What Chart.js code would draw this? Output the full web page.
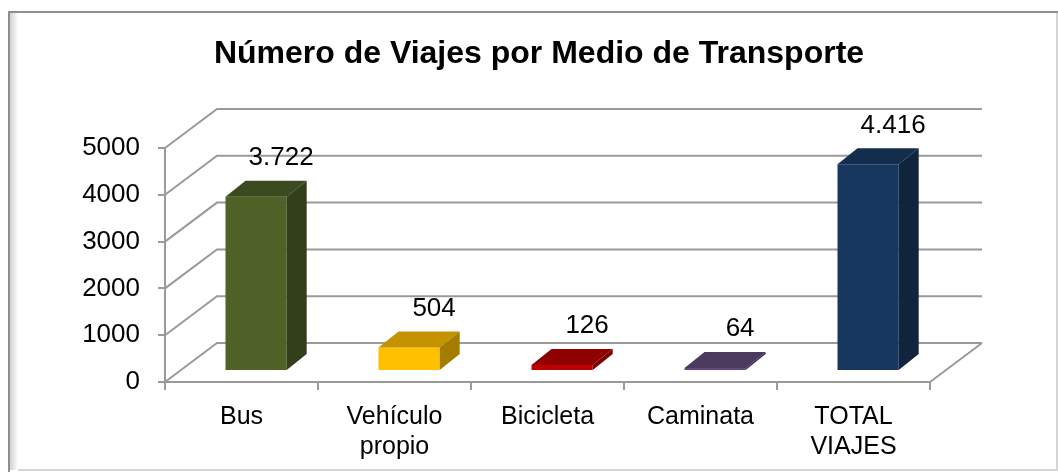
<!DOCTYPE html>
<html>
<head>
<meta charset="utf-8">
<script src="https://cdn.jsdelivr.net/npm/chart.js@4.4.1/dist/chart.umd.min.js"></script>
<style>
  html, body { margin: 0; padding: 0; background: #fff; }
  canvas { display: block; }
</style>
</head>
<body>
<canvas id="myChart" width="1058" height="472"></canvas>
<script>
// Datos del gráfico
const categorias = ['Bus', ['Vehículo', 'propio'], 'Bicicleta', 'Caminata', ['TOTAL', 'VIAJES']];
const viajes = [3722, 504, 126, 64, 4416];
const ejeMin = 0;
const ejeMax = 5000;
const ejePaso = 1000;

// Colores de cada barra: cara frontal, superior y lateral
const colorFrente = ['#4F6228', '#FFC000', '#C00000', '#604A7B', '#17375E'];
const colorArriba = ['#3B4A1F', '#C49300', '#8F0000', '#4B3A5E', '#132D4D'];
const colorLado = ['#323F1A', '#A67C00', '#7A0000', '#3E3050', '#10243E'];

const FUENTE = "'Liberation Sans', Arial, sans-serif";

// Profundidad del efecto 3D
const pared = { dx: 52, dy: -39 };     // fondo del gráfico
const despl = { dx: 14.6, dy: -11 };   // posición de las barras dentro del piso
const fondoBarra = { dx: 20, dy: -16 }; // profundidad de cada barra

function formatoMiles(v) {
    return String(v).replace(/\B(?=(\d{3})+(?!\d))/g, '.');
}

function poligono(ctx, puntos, color) {
    ctx.beginPath();
    ctx.moveTo(puntos[0][0], puntos[0][1]);
    for (let i = 1; i < puntos.length; i++) ctx.lineTo(puntos[i][0], puntos[i][1]);
    ctx.closePath();
    ctx.fillStyle = color;
    ctx.fill();
}

// Marco, paredes y piso en perspectiva
const plugin3D = {
    id: 'efecto3d',
    beforeDraw(chart) {
        const ctx = chart.ctx;
        ctx.save();
        ctx.fillStyle = '#fff';
        ctx.fillRect(0, 0, chart.width, chart.height);
        // sombra interior del marco
        const g = ctx.createLinearGradient(10, 0, 18, 0);
        g.addColorStop(0, 'rgba(0,0,0,0.18)');
        g.addColorStop(1, 'rgba(0,0,0,0)');
        ctx.fillStyle = g;
        ctx.fillRect(10, 13, 8, chart.height - 15);
        ctx.strokeStyle = '#d6d6d6';
        ctx.lineWidth = 2;
        ctx.beginPath();
        ctx.moveTo(1057, 13);
        ctx.lineTo(1057, 471);
        ctx.moveTo(18, 470);
        ctx.lineTo(1058, 470);
        ctx.stroke();
        ctx.strokeStyle = '#8f8f8f';
        ctx.lineWidth = 2;
        ctx.beginPath();
        ctx.moveTo(9, 472);
        ctx.lineTo(9, 12);
        ctx.lineTo(1058, 12);
        ctx.stroke();
        ctx.restore();
    },
    beforeDatasetsDraw(chart) {
        const ctx = chart.ctx;
        const x = chart.scales.x;
        const y = chart.scales.y;
        const izq = x.left, der = x.right;
        ctx.save();
        ctx.strokeStyle = '#9a9a9a';
        ctx.lineWidth = 2;
        ctx.beginPath();
        for (let v = ejeMin; v <= ejeMax; v += ejePaso) {
            const py = y.getPixelForValue(v);
            ctx.moveTo(izq, py);
            ctx.lineTo(izq + pared.dx, py + pared.dy);
            ctx.lineTo(der + pared.dx, py + pared.dy);
        }
        // borde derecho del piso
        const base = y.getPixelForValue(ejeMin);
        ctx.moveTo(der, base);
        ctx.lineTo(der + pared.dx, base + pared.dy);
        ctx.stroke();
        ctx.restore();

        // las barras se dibujan desplazadas hacia el fondo
        ctx.save();
        ctx.translate(despl.dx, despl.dy);
    },
    afterDatasetsDraw(chart) {
        const ctx = chart.ctx;
        ctx.restore();
        const meta = chart.getDatasetMeta(0);
        ctx.save();
        meta.data.forEach((barra, i) => {
            const p = barra.getProps(['x', 'y', 'base', 'width'], true);
            const L = p.x - p.width / 2 + despl.dx;
            const R = p.x + p.width / 2 + despl.dx;
            const T = p.y + despl.dy;
            const B = p.base + despl.dy;
            const fx = fondoBarra.dx, fy = fondoBarra.dy;
            poligono(ctx, [[L, T], [R, T], [R + fx, T + fy], [L + fx, T + fy]], colorArriba[i]);
            poligono(ctx, [[R, T], [R + fx, T + fy], [R + fx, B + fy], [R, B]], colorLado[i]);

            // etiqueta de valor
            ctx.fillStyle = '#000';
            ctx.font = '26px ' + FUENTE;
            ctx.textAlign = 'center';
            ctx.textBaseline = 'middle';
            ctx.fillText(formatoMiles(viajes[i]), p.x + despl.dx + fx / 2 + 15, T + fy - 23);
        });
        ctx.restore();
    }
};

const ctx = document.getElementById('myChart').getContext('2d');
new Chart(ctx, {
    type: 'bar',
    data: {
        labels: categorias,
        datasets: [{
            data: viajes,
            backgroundColor: colorFrente,
            borderWidth: 0,
            categoryPercentage: 1,
            barPercentage: 0.4,
            clip: false
        }]
    },
    options: {
        responsive: false,
        animation: false,
        layout: { padding: { left: 20, right: 0, top: 0, bottom: 0 } },
        plugins: {
            legend: { display: false },
            tooltip: { enabled: false },
            title: {
                display: true,
                text: 'Número de Viajes por Medio de Transporte',
                color: '#000',
                font: { family: FUENTE, size: 32, weight: 'bold', lineHeight: 1.2 },
                padding: { top: 35, bottom: 74.6 }
            }
        },
        scales: {
            x: {
                afterFit(scale) { scale.height = 90; },
                grid: {
                    drawOnChartArea: false,
                    color: '#9a9a9a',
                    lineWidth: 2,
                    tickLength: 8
                },
                border: { display: true, color: '#9a9a9a', width: 2 },
                ticks: {
                    color: '#000',
                    font: { family: FUENTE, size: 25, lineHeight: 1.2 },
                    padding: 12,
                    autoSkip: false,
                    maxRotation: 0
                }
            },
            y: {
                min: ejeMin,
                max: ejeMax,
                afterFit(scale) { scale.width = 145; },
                grid: {
                    drawOnChartArea: false,
                    color: '#9a9a9a',
                    lineWidth: 2,
                    tickLength: 7
                },
                border: { display: true, color: '#9a9a9a', width: 2 },
                ticks: {
                    stepSize: ejePaso,
                    color: '#000',
                    font: { family: FUENTE, size: 26 },
                    padding: 18,
                    callback: v => String(v)
                }
            },
            // espacio reservado a la derecha (fondo 3D)
            margen: {
                type: 'linear',
                position: 'right',
                afterFit(scale) { scale.width = 128; },
                grid: { display: false },
                border: { display: false },
                ticks: { display: false }
            }
        }
    },
    plugins: [plugin3D]
});
</script>
</body>
</html>
